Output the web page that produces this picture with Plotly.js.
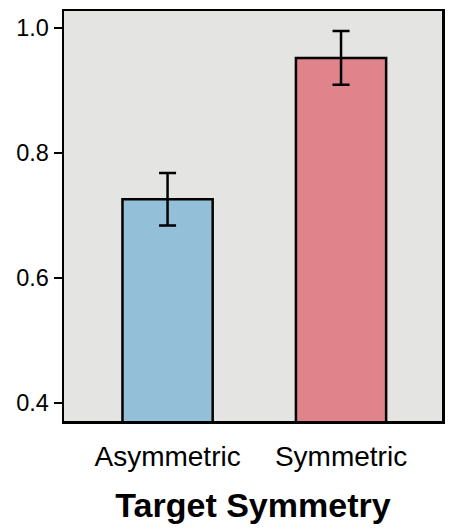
<!DOCTYPE html>
<html>
<head>
<meta charset="utf-8">
<script src="https://cdn.plot.ly/plotly-3.0.1.min.js"></script>
<style>html,body{margin:0;padding:0;background:#fff;}#chart{width:451px;height:529px;}</style>
</head>
<body>
<div id="chart"></div>
<script>
const categories = ["Asymmetric", "Symmetric"];
const means = [0.726, 0.952];
const errors = [0.042, 0.043];
const barColors = ["#93bfd8", "#e0838a"];
const yTickVals = [0.4, 0.6, 0.8, 1.0];
const yTickText = ["0.4", "0.6", "0.8", "1.0"];
const xTitle = "Target Symmetry";

const trace = {
  type: "bar",
  x: categories,
  y: means,
  width: 0.52,
  marker: {color: barColors, line: {color: "#000", width: 2.5}},
  error_y: {type: "data", array: errors, visible: true, color: "#000", thickness: 2.5, width: 8.5},
  hoverinfo: "none"
};

const layout = {
  width: 451, height: 529,
  margin: {l: 64, r: 9, t: 11, b: 108},
  paper_bgcolor: "#ffffff",
  plot_bgcolor: "#e4e4e3",
  font: {family: "Liberation Sans, Arial, Helvetica, sans-serif", color: "#000"},
  showlegend: false,
  xaxis: {
    type: "category",
    range: [-0.597, 1.582],
    showline: true, linecolor: "#000", linewidth: 2.5, mirror: true,
    showgrid: false, zeroline: false,
    ticks: "", tickfont: {size: 28, color: "#000"},
    ticklabelstandoff: 9,
    title: {text: "<b>" + xTitle + "</b>", font: {size: 34, color: "#000"}, standoff: 22}
  },
  yaxis: {
    range: [0.371, 1.027],
    showline: true, linecolor: "#000", linewidth: 2.5, mirror: true,
    showgrid: false, zeroline: false,
    ticks: "outside", ticklen: 8, tickwidth: 2.5, tickcolor: "#000",
    tickvals: yTickVals, ticktext: yTickText,
    tickfont: {size: 23.5, color: "#000"}
  }
};

Plotly.newPlot("chart", [trace], layout, {displayModeBar: false, staticPlot: true});
</script>
</body>
</html>
